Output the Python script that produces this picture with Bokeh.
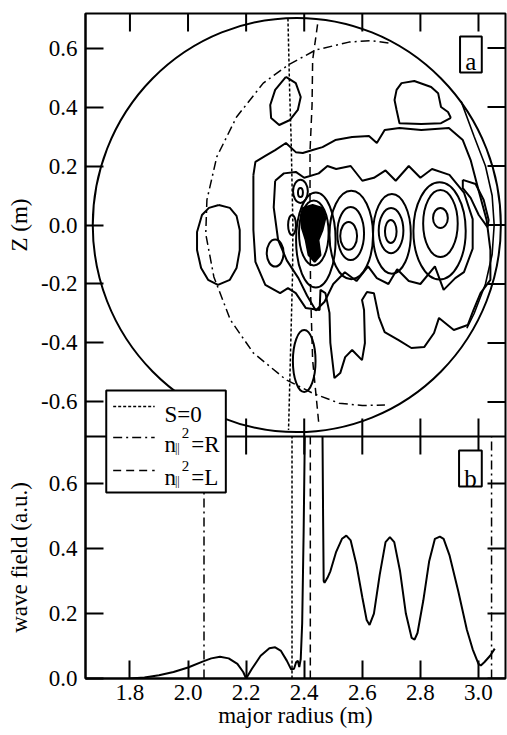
import math
from bokeh.plotting import figure
from bokeh.layouts import row
from bokeh.models import Range1d, FixedTicker, Label
from bokeh.embed import file_html
from bokeh.resources import INLINE

FONT = "Liberation Serif"
INK = "black"

# ---------------- axes / ticks ----------------
r_min, r_max = 1.647, 3.093
z_min, z_max = -0.717, 0.717
w_min, w_max = 0.0, 0.745
x_ticks = [1.8, 2.0, 2.2, 2.4, 2.6, 2.8, 3.0]
x_tick_labels = ["1.8", "2.0", "2.2", "2.4", "2.6", "2.8", "3.0"]
z_ticks = [-0.6, -0.4, -0.2, 0.0, 0.2, 0.4, 0.6]
z_tick_labels = ["-0.6", "-0.4", "-0.2", "0.0", "0.2", "0.4", "0.6"]
w_ticks = [0.0, 0.2, 0.4, 0.6]
w_tick_labels = ["0.0", "0.2", "0.4", "0.6"]

# ---------------- panel (b): wave field ----------------
wave_r = [1.80, 1.85, 1.90, 1.95, 2.00, 2.05, 2.08, 2.11, 2.14, 2.17, 2.19, 2.20,
          2.22, 2.25, 2.28, 2.30, 2.32, 2.34, 2.355, 2.365, 2.372, 2.378, 2.383,
          2.388, 2.393, 2.398, 2.402, float("nan"),
          2.463, 2.465, 2.467, 2.470, 2.480, 2.490, 2.510, 2.530, 2.545, 2.560,
          2.580, 2.600, 2.615, 2.625, 2.640, 2.660, 2.680, 2.695, 2.710, 2.730,
          2.750, 2.770, 2.780, 2.790, 2.810, 2.830, 2.850, 2.867, 2.880, 2.900,
          2.930, 2.960, 2.980, 3.000, 3.008, 3.020, 3.040, 3.056]
wave_w = [0.000, 0.003, 0.010, 0.020, 0.034, 0.052, 0.062, 0.067, 0.062, 0.045, 0.020, 0.000,
          0.030, 0.070, 0.093, 0.096, 0.085, 0.055, 0.028, 0.030, 0.050, 0.055, 0.035,
          0.060, 0.170, 0.450, 0.745, float("nan"),
          0.745, 0.500, 0.300, 0.295, 0.310, 0.330, 0.390, 0.430, 0.440, 0.425,
          0.350, 0.250, 0.180, 0.165, 0.200, 0.320, 0.420, 0.435, 0.420, 0.330,
          0.200, 0.125, 0.120, 0.140, 0.240, 0.360, 0.430, 0.437, 0.430, 0.380,
          0.270, 0.150, 0.090, 0.045, 0.040, 0.050, 0.070, 0.092]

# cutoff / resonance positions at Z = 0 (panel b)
s0_r_mid = [2.358]
nR_r_mid = [2.055, 3.045]
nL_r_mid = [2.421]

# ---------------- panel (a): cutoff curves ----------------
s0_r = [2.344, 2.350, 2.355, 2.361, 2.360, 2.355, 2.347, 2.346]
s0_z = [0.700, 0.450, 0.290, 0.000, -0.160, -0.350, -0.660, -0.695]

nR_r = [2.690, 2.630, 2.554, 2.439, 2.344, 2.259, 2.167, 2.099, 2.065, 2.061,
        2.089, 2.146, 2.225, 2.338, 2.429, 2.520, 2.600, 2.678]
nR_z = [0.617, 0.625, 0.620, 0.593, 0.542, 0.481, 0.366, 0.231, 0.085, -0.030,
        -0.176, -0.322, -0.434, -0.525, -0.570, -0.604, -0.612, -0.610]

nL_r = [2.446, 2.429, 2.427, 2.420, 2.420, 2.422, 2.429, 2.450]
nL_z = [0.680, 0.559, 0.407, 0.250, 0.000, -0.230, -0.458, -0.671]

# plasma boundary and the inner (antenna-side) boundary arc
wall_r, wall_z, wall_radius = [2.3745], [0.0], [0.7025]
arc_r = [2.940, 2.985, 3.024, 3.047, 3.054, 3.047, 3.024, 2.985, 2.960]
arc_z = [0.420, 0.300, 0.200, 0.100, 0.000, -0.100, -0.200, -0.300, -0.350]

# ---------------- panel (a): wave-field contours ----------------
outer_r = [2.225, 2.232, 2.266, 2.300, 2.337, 2.371, 2.395, 2.429, 2.463, 2.507, 2.565, 2.623,
           2.650, 2.677, 2.728, 2.803, 2.898, 2.946, 2.973, 3.000, 3.028, 3.041, 3.041, 3.007,
           2.983, 2.963, 2.915, 2.864, 2.847, 2.813, 2.769, 2.725, 2.677, 2.657, 2.640, 2.616,
           2.599, 2.606, 2.609, 2.599, 2.565, 2.541, 2.524, 2.504, 2.490, 2.487, 2.473, 2.456,
           2.453, 2.405, 2.371, 2.344, 2.317, 2.266, 2.232, 2.225, 2.225]
outer_z = [0.169, 0.214, 0.234, 0.254, 0.278, 0.247, 0.244, 0.254, 0.264, 0.288, 0.298, 0.302,
           0.278, 0.322, 0.329, 0.322, 0.329, 0.288, 0.220, 0.119, 0.017, -0.085, -0.186, -0.231,
           -0.288, -0.339, -0.356, -0.315, -0.366, -0.414, -0.417, -0.390, -0.363, -0.312, -0.231, -0.227,
           -0.254, -0.288, -0.400, -0.458, -0.424, -0.448, -0.502, -0.519, -0.400, -0.298, -0.231, -0.220,
           -0.288, -0.281, -0.231, -0.214, -0.231, -0.203, -0.125, -0.017, 0.169]

cloud_r = [2.905, 2.895, 2.871, 2.861, 2.837, 2.779, 2.735, 2.718, 2.711, 2.718, 2.728, 2.803, 2.871, 2.905]
cloud_z = [0.363, 0.383, 0.400, 0.447, 0.468, 0.488, 0.481, 0.458, 0.424, 0.390, 0.345, 0.342, 0.345, 0.363]

egg_r = [2.106, 2.144, 2.167, 2.178, 2.178, 2.167, 2.144, 2.103, 2.069, 2.045, 2.031, 2.031, 2.048, 2.072, 2.106]
egg_z = [0.068, 0.058, 0.031, -0.017, -0.085, -0.146, -0.186, -0.203, -0.186, -0.146, -0.085, -0.024, 0.034, 0.058, 0.068]

top_oval_r = [2.337, 2.371, 2.388, 2.378, 2.351, 2.314, 2.286, 2.283, 2.300, 2.337]
top_oval_z = [0.502, 0.481, 0.434, 0.390, 0.356, 0.339, 0.363, 0.407, 0.458, 0.502]

crescent_r = [2.946, 2.990, 3.018, 3.035, 3.031, 3.001, 2.973, 2.946, 2.946]
crescent_z = [0.153, 0.139, 0.085, 0.017, -0.007, 0.034, 0.092, 0.125, 0.153]

env_r = [2.300, 2.330, 2.371, 2.400, 2.450, 2.480, 2.510, 2.560, 2.600, 2.640, 2.680, 2.715,
         2.760, 2.800, 2.840, 2.900, 2.950, 2.980, 2.980, 2.950, 2.920, 2.880, 2.850, 2.800,
         2.760, 2.720, 2.690, 2.650, 2.620, 2.580, 2.540, 2.500, 2.470, 2.440, 2.410, 2.380,
         2.340, 2.310, 2.295, 2.300]
env_z = [0.150, 0.175, 0.180, 0.160, 0.175, 0.200, 0.190, 0.200, 0.150, 0.160, 0.185, 0.150,
         0.200, 0.160, 0.190, 0.170, 0.110, 0.020, -0.080, -0.160, -0.180, -0.220, -0.140, -0.200,
         -0.190, -0.150, -0.200, -0.180, -0.140, -0.190, -0.160, -0.200, -0.260, -0.290, -0.240,
         -0.180, -0.120, -0.050, 0.060, 0.150]

core_r = [2.395, 2.429, 2.463, 2.473, 2.463, 2.449, 2.456, 2.436, 2.415, 2.405, 2.392, 2.389, 2.395]
core_z = [0.058, 0.068, 0.058, 0.024, -0.017, -0.051, -0.102, -0.125, -0.102, -0.051, -0.010, 0.034, 0.058]

# nested oval contours (centre R, centre Z, full width, full height)
ring_r = [2.553, 2.560, 2.562, 2.698, 2.699, 2.702, 2.869, 2.869, 2.866,
          2.400, 2.387, 2.387, 2.358, 2.433, 2.440, 2.300]
ring_z = [-0.037, -0.029, -0.034, -0.022, -0.019, -0.030, 0.024, 0.005, -0.020,
          -0.461, 0.114, 0.110, 0.000, -0.027, -0.051, -0.095]
ring_w = [0.058, 0.092, 0.150, 0.040, 0.085, 0.130, 0.051, 0.119, 0.180,
          0.078, 0.051, 0.017, 0.027, 0.102, 0.136, 0.058]
ring_h = [0.094, 0.180, 0.300, 0.078, 0.153, 0.270, 0.068, 0.227, 0.330,
          0.210, 0.078, 0.031, 0.068, 0.220, 0.322, 0.092]

# ---------------- layout ----------------
W, H = 507, 735
STRIP = 38
B_LEFT, B_RIGHT, B_TOP, B_BOTTOM = 80 - STRIP, 2, 13, 57
frame_w = W - STRIP - B_LEFT - B_RIGHT
frame_h = H - B_TOP - B_BOTTOM
top_h = 423
bot_h = frame_h - top_h
z_ext_min = z_min - bot_h * (z_max - z_min) / top_h
w_ext_max = w_max + top_h * (w_max - w_min) / bot_h


def px_r(px):
    return r_min + (px - 80) / frame_w * (r_max - r_min)


def py_z(py):
    return z_max - (py - B_TOP) / frame_h * (z_max - z_ext_min)


def w_as_z(w):
    # position of a wave-field value on the shared vertical scale
    return z_ext_min + (w - w_min) / (w_ext_max - w_min) * (z_max - z_ext_min)


p = figure(width=W - STRIP, height=H, x_range=Range1d(r_min, r_max), y_range=Range1d(z_ext_min, z_max),
           output_backend="svg", toolbar_location=None,
           min_border_left=B_LEFT, min_border_right=B_RIGHT,
           min_border_top=B_TOP, min_border_bottom=B_BOTTOM)
p.extra_y_ranges = {"wave": Range1d(w_min, w_ext_max)}
p.xgrid.visible = False
p.ygrid.visible = False
p.outline_line_color = INK
p.outline_line_width = 2
p.background_fill_color = "white"
p.border_fill_color = "white"

for ax in (p.xaxis[0], p.yaxis[0]):
    ax.major_tick_in = 18
    ax.major_tick_out = 0
    ax.minor_tick_in = 0
    ax.minor_tick_out = 0
    ax.major_tick_line_width = 2
    ax.major_tick_line_color = INK
    ax.axis_line_width = 2
    ax.axis_line_color = INK
    ax.major_label_text_font = FONT
    ax.major_label_text_font_size = "23px"
    ax.major_label_text_color = INK
p.xaxis[0].ticker = FixedTicker(ticks=x_ticks)
p.xaxis[0].major_label_overrides = dict(zip(x_ticks, x_tick_labels))
y_tick_pos = z_ticks + [w_as_z(w) for w in w_ticks]
p.yaxis[0].ticker = FixedTicker(ticks=y_tick_pos)
p.yaxis[0].major_label_overrides = dict(zip(y_tick_pos, z_tick_labels + w_tick_labels))
p.xaxis[0].major_label_standoff = 6
p.yaxis[0].major_label_standoff = 8
p.xaxis[0].axis_label = "major radius (m)"
p.xaxis[0].axis_label_standoff = 0
p.xaxis[0].axis_label_text_font = FONT
p.xaxis[0].axis_label_text_font_size = "23px"
p.xaxis[0].axis_label_text_font_style = "normal"
p.xaxis[0].axis_label_text_color = INK

LW = 2
# plasma boundary
p.ellipse(x=wall_r, y=wall_z, width=[2 * r for r in wall_radius], height=[2 * r for r in wall_radius],
          fill_color=None, line_color=INK, line_width=LW)
p.line(arc_r, arc_z, line_color=INK, line_width=1.6)

# contours
for cr, cz in [(outer_r, outer_z), (cloud_r, cloud_z), (egg_r, egg_z), (top_oval_r, top_oval_z),
               (crescent_r, crescent_z), (env_r, env_z)]:
    p.line(cr, cz, line_color=INK, line_width=LW)
p.patch(core_r, core_z, fill_color=INK, line_color=INK, line_width=LW)
p.ellipse(x=ring_r, y=ring_z, width=ring_w, height=ring_h, fill_color=None,
          line_color=INK, line_width=LW)

# cutoff curves (panel a)
p.line(s0_r, s0_z, line_color=INK, line_width=1.5, line_dash="3 2")
p.line(nR_r, nR_z, line_color=INK, line_width=1.5, line_dash="9 4 2 4")
p.line(nL_r, nL_z, line_color=INK, line_width=1.5, line_dash="8 5")

# divider between panels
p.line([r_min, r_max], [w_max, w_max], y_range_name="wave", line_color=INK, line_width=2)

# panel (b) verticals and wave field
p.segment(x0=s0_r_mid, y0=[w_min], x1=s0_r_mid, y1=[w_max], y_range_name="wave",
          line_color=INK, line_width=1.5, line_dash="3 2")
p.segment(x0=nR_r_mid, y0=[w_min] * 2, x1=nR_r_mid, y1=[w_max] * 2, y_range_name="wave",
          line_color=INK, line_width=1.5, line_dash="9 4 2 4")
p.segment(x0=nL_r_mid, y0=[w_min], x1=nL_r_mid, y1=[w_max], y_range_name="wave",
          line_color=INK, line_width=1.5, line_dash="8 5")
p.line(wave_r, wave_w, y_range_name="wave", line_color=INK, line_width=2)

# mirrored / inner tick marks
TL = 18
p.ray(x=x_ticks, y=[z_max] * len(x_ticks), length=TL, length_units="screen", angle=-math.pi / 2,
      line_color=INK, line_width=2)
p.ray(x=x_ticks, y=[z_min] * len(x_ticks), length=TL, length_units="screen", angle=math.pi / 2,
      line_color=INK, line_width=2)
p.ray(x=x_ticks, y=[z_min] * len(x_ticks), length=TL, length_units="screen", angle=-math.pi / 2,
      line_color=INK, line_width=2)
p.ray(x=[r_max] * len(z_ticks), y=z_ticks, length=TL, length_units="screen", angle=math.pi,
      line_color=INK, line_width=2)
p.ray(x=[r_max] * len(w_ticks), y=w_ticks, y_range_name="wave", length=TL, length_units="screen",
      angle=math.pi, line_color=INK, line_width=2)

# panel tags
for (x0, x1, y0, y1, tag, ybase) in [(459, 481, 36, 72, "a", 61), (458, 481, 450, 486, "b", 478)]:
    p.quad(left=[px_r(x0)], right=[px_r(x1)], top=[py_z(y0)], bottom=[py_z(y1)],
           fill_color="white", line_color=INK, line_width=2)
    p.add_layout(Label(x=px_r((x0 + x1) / 2), y=py_z(ybase), text=tag, text_align="center",
                       text_baseline="alphabetic", text_font=FONT, text_font_size="25px",
                       text_color=INK))

# legend
p.quad(left=[px_r(101)], right=[px_r(222)], top=[py_z(390)], bottom=[py_z(492)],
       fill_color="white", line_color=INK, line_width=2)
for ypx, dash in [(406, "3 2"), (437, "9 4 2 4"), (470, "8 5")]:
    p.line([px_r(108), px_r(150)], [py_z(ypx)] * 2, line_color=INK, line_width=1.5, line_dash=dash)


def lab(xpx, ypx, text, size):
    p.add_layout(Label(x=px_r(xpx), y=py_z(ypx), text=text, text_align="left",
                       text_baseline="alphabetic", text_font=FONT, text_font_size=size,
                       text_color=INK))


lab(160, 414, "S=0", "23px")
for base, tail in [(444, "=R"), (477, "=L")]:
    lab(160, base, "n", "23px")
    lab(170.5, base + 3, "||", "12px")
    lab(177.5, base - 12, "2", "15px")
    lab(187, base, tail, "23px")

# ---------------- left strip with the two axis titles ----------------
s = figure(width=STRIP, height=H, x_range=Range1d(0, 1), y_range=Range1d(z_ext_min, z_max),
           output_backend="svg", toolbar_location=None, min_border_left=0, min_border_right=0,
           min_border_top=B_TOP, min_border_bottom=B_BOTTOM)
s.extra_y_ranges = {"wave": Range1d(w_min, w_ext_max)}
s.axis.visible = False
s.grid.visible = False
s.outline_line_color = None
s.add_layout(Label(x=0.5, y=0.0, text="Z (m)", angle=math.pi / 2, text_align="center",
                   text_baseline="middle", text_font=FONT, text_font_size="23px", text_color=INK))
s.add_layout(Label(x=0.5, y=(w_min + w_max) / 2, y_range_name="wave", text="wave field (a.u.)",
                   angle=math.pi / 2, text_align="center", text_baseline="middle",
                   text_font=FONT, text_font_size="23px", text_color=INK))

layout = row(s, p)
open("out.html", "w").write(file_html(layout, INLINE))
